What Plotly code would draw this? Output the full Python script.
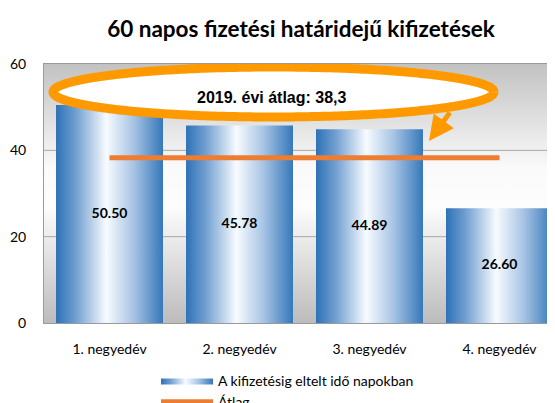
import numpy as np
import plotly.graph_objects as go

categories = ["1. negyedév", "2. negyedév", "3. negyedév", "4. negyedév"]
values = [50.50, 45.78, 44.89, 26.60]
average = [38.3, 38.3, 38.3, 38.3]
y_ticks = [0, 20, 40, 60]
title_text = "60 napos fizetési határidejű kifizetések"
callout_text = "2019. évi átlag: 38,3"
bar_name = "A kifizetésig eltelt idő napokban"
avg_name = "Átlag"

BAR_W = 0.823
X_RANGE = [-0.504, 3.427]
Y_RANGE = [0, 60]
FONT = "Lato"

bar_scale = [[0, "#2e72b6"], [0.18, "#6f9ed0"], [0.47, "#f7fbff"],
             [0.72, "#a9c5e4"], [1, "#3578ba"]]
bg_scale = [[0, "#bcbcbc"], [0.45, "#fdfdfd"], [0.6, "#fafafa"], [1, "#c2c2c2"]]

# page body has an 8px margin: work in screenshot pixels, shift by OFF
OFF = 8
W, H = 555 - OFF, 403 - OFF
ml, mr, mt, mb = 44 - OFF, 0, 64 - OFF, 80
pw, ph = W - ml - mr, H - mt - mb

def px_x(p):
    return (p - OFF - ml) / pw

def px_y(p):
    return (H - mb - (p - OFF)) / ph

def dx(p):  # screenshot px -> x data
    return X_RANGE[0] + px_x(p) * (X_RANGE[1] - X_RANGE[0])

def dy(p):  # screenshot px -> y data
    return Y_RANGE[0] + px_y(p) * (Y_RANGE[1] - Y_RANGE[0])

fig = go.Figure()

# plot-area background gradient
fig.add_trace(go.Scatter(
    x=[X_RANGE[0], X_RANGE[1], X_RANGE[1], X_RANGE[0], X_RANGE[0]],
    y=[Y_RANGE[0], Y_RANGE[0], Y_RANGE[1], Y_RANGE[1], Y_RANGE[0]],
    mode="lines", line=dict(width=0), fill="toself",
    fillgradient=dict(type="vertical", colorscale=bg_scale,
                      start=Y_RANGE[0], stop=Y_RANGE[1]),
    showlegend=False, hoverinfo="skip"))

# gridlines
for t in y_ticks[1:-1]:
    fig.add_trace(go.Scatter(x=[X_RANGE[0], X_RANGE[1]], y=[t, t], mode="lines",
                             line=dict(color="#a6a6a6", width=1),
                             showlegend=False, hoverinfo="skip"))

# bars with horizontal gradient
for i, (c, v) in enumerate(zip(categories, values)):
    x0, x1 = i - BAR_W / 2, i + BAR_W / 2
    fig.add_trace(go.Scatter(
        x=[x0, x1, x1, x0, x0], y=[0, 0, v, v, 0],
        mode="lines", line=dict(width=0), fill="toself",
        fillgradient=dict(type="horizontal", colorscale=bar_scale, start=x0, stop=x1),
        name=bar_name, legendgroup="bars", showlegend=(i == 0),
        hoverinfo="skip"))

# value labels
fig.add_trace(go.Scatter(
    x=list(range(len(values))), y=[v / 2 for v in values],
    mode="text", text=[f"{v:.2f}" for v in values],
    textfont=dict(family=FONT, size=14, color="#000000", weight="bold"),
    showlegend=False, hoverinfo="skip"))

# average line
fig.add_trace(go.Scatter(
    x=list(range(len(average))), y=average, mode="lines",
    line=dict(color="#ed7d31", width=5), name=avg_name))

# callout ellipse (decoration)
theta = np.linspace(0, 2 * np.pi, 361)
ecx, erx = (dx(53) + dx(494)) / 2, (dx(494) - dx(53)) / 2
ecy, ery = (dy(67) + dy(117)) / 2, (dy(67) - dy(117)) / 2
fig.add_trace(go.Scatter(
    x=(ecx + erx * np.cos(theta)).tolist(), y=(ecy + ery * np.sin(theta)).tolist(),
    mode="lines", fill="toself", fillcolor="#ffffff",
    line=dict(color="#ff9900", width=9, simplify=False),
    showlegend=False, hoverinfo="skip"))

fig.update_layout(
    width=W, height=H,
    margin=dict(l=ml, r=mr, t=mt, b=mb, pad=0, autoexpand=False),
    paper_bgcolor="white", plot_bgcolor="white",
    title=dict(text=title_text, x=(301 - OFF) / W, xanchor="center",
               y=1 - (29 - OFF) / H, yanchor="middle",
               font=dict(family=FONT, size=22.5, color="#000000", weight="bold")),
    xaxis=dict(range=X_RANGE, tickvals=list(range(len(categories))), ticktext=categories,
               showgrid=False, zeroline=False, showline=True, mirror=True, automargin=False,
               linecolor="#9a9a9a", linewidth=1, ticks="", ticklabelstandoff=13,
               tickfont=dict(family=FONT, size=14, color="#000000")),
    yaxis=dict(range=Y_RANGE, tickvals=y_ticks, showgrid=False, zeroline=False,
               showline=True, linecolor="#9a9a9a", linewidth=1, ticks="", automargin=False,
               ticklabelstandoff=14,
               tickfont=dict(family=FONT, size=14, color="#000000")),
    legend=dict(orientation="v", xref="container", yref="container",
                x=(156 - OFF) / W, xanchor="left", y=1 - (365 - OFF) / H, yanchor="top",
                font=dict(family=FONT, size=14, color="#000000"),
                itemwidth=52, tracegroupgap=0, bgcolor="rgba(0,0,0,0)"),
    showlegend=True,
)

fig.add_annotation(xref="paper", yref="paper", x=px_x(272), y=px_y(97),
                   xanchor="center", yanchor="middle",
                   text=callout_text, showarrow=False,
                   font=dict(family="Liberation Sans", size=16, color="#000000", weight="bold"))
fig.add_annotation(xref="paper", yref="paper", x=px_x(429), y=px_y(141),
                   ax=22, ay=-30, text="", showarrow=True, arrowhead=2,
                   arrowsize=1, arrowwidth=5, arrowcolor="#ff9900")

fig.write_html("out.html")
